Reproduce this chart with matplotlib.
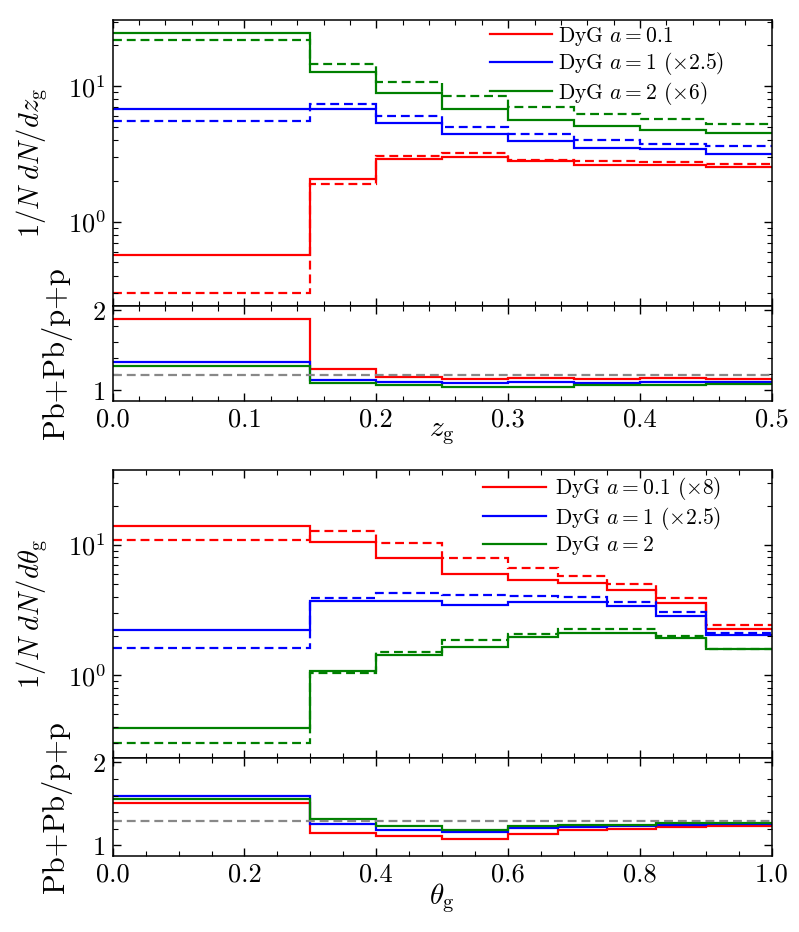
import matplotlib
matplotlib.use("Agg")
import matplotlib.pyplot as plt
from matplotlib.ticker import MultipleLocator, FixedLocator, FormatStrFormatter, LogLocator

plt.rcParams['font.family'] = 'serif'
plt.rcParams['font.serif'] = ['cmr10']
plt.rcParams['mathtext.fontset'] = 'cm'
plt.rcParams['axes.formatter.use_mathtext'] = True

# z_g distributions (solid = Pb+Pb, dashed = p+p)
zg_edges = [0.0, 0.15, 0.2, 0.25, 0.3, 0.35, 0.4, 0.45, 0.5]
zg_a01_pbpb = [0.57, 2.08, 2.92, 3.00, 2.80, 2.62, 2.62, 2.53]
zg_a01_pp = [0.30, 1.91, 3.04, 3.21, 2.87, 2.79, 2.74, 2.68]
zg_a1_pbpb = [6.73, 6.79, 5.35, 4.45, 3.95, 3.48, 3.41, 3.18]
zg_a1_pp = [5.51, 7.39, 6.07, 5.00, 4.40, 4.04, 3.73, 3.60]
zg_a2_pbpb = [24.8, 12.7, 8.93, 6.76, 5.67, 5.12, 4.78, 4.52]
zg_a2_pp = [21.9, 14.6, 10.8, 8.44, 6.97, 6.18, 5.68, 5.24]
zg_ratio_a01 = [1.89, 1.27, 1.17, 1.14, 1.15, 1.14, 1.15, 1.14]
zg_ratio_a1 = [1.36, 1.13, 1.10, 1.09, 1.10, 1.09, 1.11, 1.10]
zg_ratio_a2 = [1.31, 1.09, 1.07, 1.04, 1.04, 1.07, 1.07, 1.08]
zg_ref = 1.19
zg_labels = [r"DyG $a=0.1$", r"DyG $a=1$ ($\times2.5$)", r"DyG $a=2$ ($\times6$)"]

# theta_g distributions
th_edges = [0.0, 0.3, 0.4, 0.5, 0.6, 0.675, 0.75, 0.825, 0.9, 1.0]
th_a01_pbpb = [13.9, 10.5, 7.95, 5.97, 5.37, 5.06, 4.47, 3.55, 2.25]
th_a01_pp = [10.9, 12.7, 10.4, 7.86, 6.59, 5.79, 5.03, 3.91, 2.41]
th_a1_pbpb = [2.20, 3.73, 3.68, 3.43, 3.64, 3.62, 3.40, 2.83, 2.02]
th_a1_pp = [1.62, 3.88, 4.27, 4.14, 4.02, 3.98, 3.66, 3.06, 2.11]
th_a2_pbpb = [0.395, 1.07, 1.42, 1.64, 1.97, 2.10, 2.10, 1.93, 1.59]
th_a2_pp = [0.299, 1.04, 1.51, 1.85, 2.08, 2.24, 2.24, 1.99, 1.60]
th_ratio_a01 = [1.51, 1.15, 1.11, 1.08, 1.14, 1.19, 1.20, 1.22, 1.23]
th_ratio_a1 = [1.60, 1.26, 1.18, 1.16, 1.21, 1.22, 1.23, 1.25, 1.26]
th_ratio_a2 = [1.56, 1.32, 1.23, 1.19, 1.23, 1.24, 1.25, 1.27, 1.27]
th_ref = 1.29
th_labels = [r"DyG $a=0.1$ ($\times8$)", r"DyG $a=1$ ($\times2.5$)", r"DyG $a=2$"]

colors = ['#ff0000', '#0000ff', '#008000']
LW = 1.6
DASH = (4, 2.2)


def style(ax):
    ax.tick_params(which='both', direction='in', top=True, right=True, labelsize=19, pad=5)
    ax.tick_params(which='major', length=6, width=1)
    ax.tick_params(which='minor', length=3.5, width=0.8)
    for s in ax.spines.values():
        s.set_linewidth(1.1)


def draw(ax, rax, edges, pbpb, pp, ratios, ref, labels, ylim, xmajor, xminor,
         xlabel, ylabel, legx, legpad, xpad):
    handles = []
    for c, v, w in zip(colors, pbpb, pp):
        ax.stairs(v, edges, baseline=None, color=c, lw=LW)
        ax.stairs(w, edges, baseline=None, color=c, lw=LW, linestyle=(0, DASH))
        handles.append(plt.Line2D([], [], color=c, lw=LW))
    ax.set_yscale('log')
    ax.set_ylim(*ylim)
    ax.set_xlim(edges[0], edges[-1])
    ax.yaxis.set_major_locator(LogLocator(base=10))
    ax.yaxis.set_minor_locator(LogLocator(base=10, subs=range(2, 10)))
    ax.xaxis.set_major_locator(MultipleLocator(xmajor))
    ax.xaxis.set_minor_locator(MultipleLocator(xminor))
    ax.tick_params(labelbottom=False)
    ax.set_ylabel(ylabel, fontsize=20.5)
    ax.yaxis.set_label_coords(-0.095, 0.5)
    ax.legend(handles, labels, loc='upper left', frameon=False, fontsize=15.5,
              handlelength=2.9, handletextpad=legpad, labelspacing=0.12,
              borderaxespad=0, borderpad=0, bbox_to_anchor=(legx, 0.982))
    style(ax)

    rax.axhline(ref, color='#888888', lw=LW, linestyle=(0, DASH))
    for c, r in zip(colors, ratios):
        rax.stairs(r, edges, baseline=None, color=c, lw=LW)
    rax.set_xlim(edges[0], edges[-1])
    rax.set_ylim(0.87, 2.06)
    rax.yaxis.set_major_locator(FixedLocator([1, 2]))
    rax.yaxis.set_major_formatter(FormatStrFormatter('%d'))
    rax.yaxis.set_minor_locator(MultipleLocator(0.2))
    rax.xaxis.set_major_locator(MultipleLocator(xmajor))
    rax.xaxis.set_minor_locator(MultipleLocator(xminor))
    rax.xaxis.set_major_formatter(FormatStrFormatter('%.1f'))
    rax.set_xlabel(xlabel, fontsize=21, labelpad=xpad)
    rax.set_ylabel('Pb+Pb/p+p', fontsize=22)
    rax.yaxis.set_label_coords(-0.062, 0.5)
    style(rax)


fig = plt.figure(figsize=(7.99, 9.32), dpi=100)
ax1 = fig.add_axes([0.141, 0.672, 0.825, 0.307])
rax1 = fig.add_axes([0.141, 0.570, 0.825, 0.102])
ax2 = fig.add_axes([0.141, 0.1872, 0.825, 0.3085])
rax2 = fig.add_axes([0.141, 0.0815, 0.825, 0.1057])

draw(ax1, rax1, zg_edges, [zg_a01_pbpb, zg_a1_pbpb, zg_a2_pbpb],
     [zg_a01_pp, zg_a1_pp, zg_a2_pp], [zg_ratio_a01, zg_ratio_a1, zg_ratio_a2],
     zg_ref, zg_labels, (0.24, 31), 0.1, 0.02, r'$z_{\rm g}$', r'$1/N\;dN/dz_{\rm g}$',
     0.572, 0.25, -8)
draw(ax2, rax2, th_edges, [th_a01_pbpb, th_a1_pbpb, th_a2_pbpb],
     [th_a01_pp, th_a1_pp, th_a2_pp], [th_ratio_a01, th_ratio_a1, th_ratio_a2],
     th_ref, th_labels, (0.233, 37.5), 0.2, 0.05, r'$\theta_{\rm g}$', r'$1/N\;dN/d\theta_{\rm g}$',
     0.562, 0.45, -4)

fig.savefig('out.png', dpi=100)
